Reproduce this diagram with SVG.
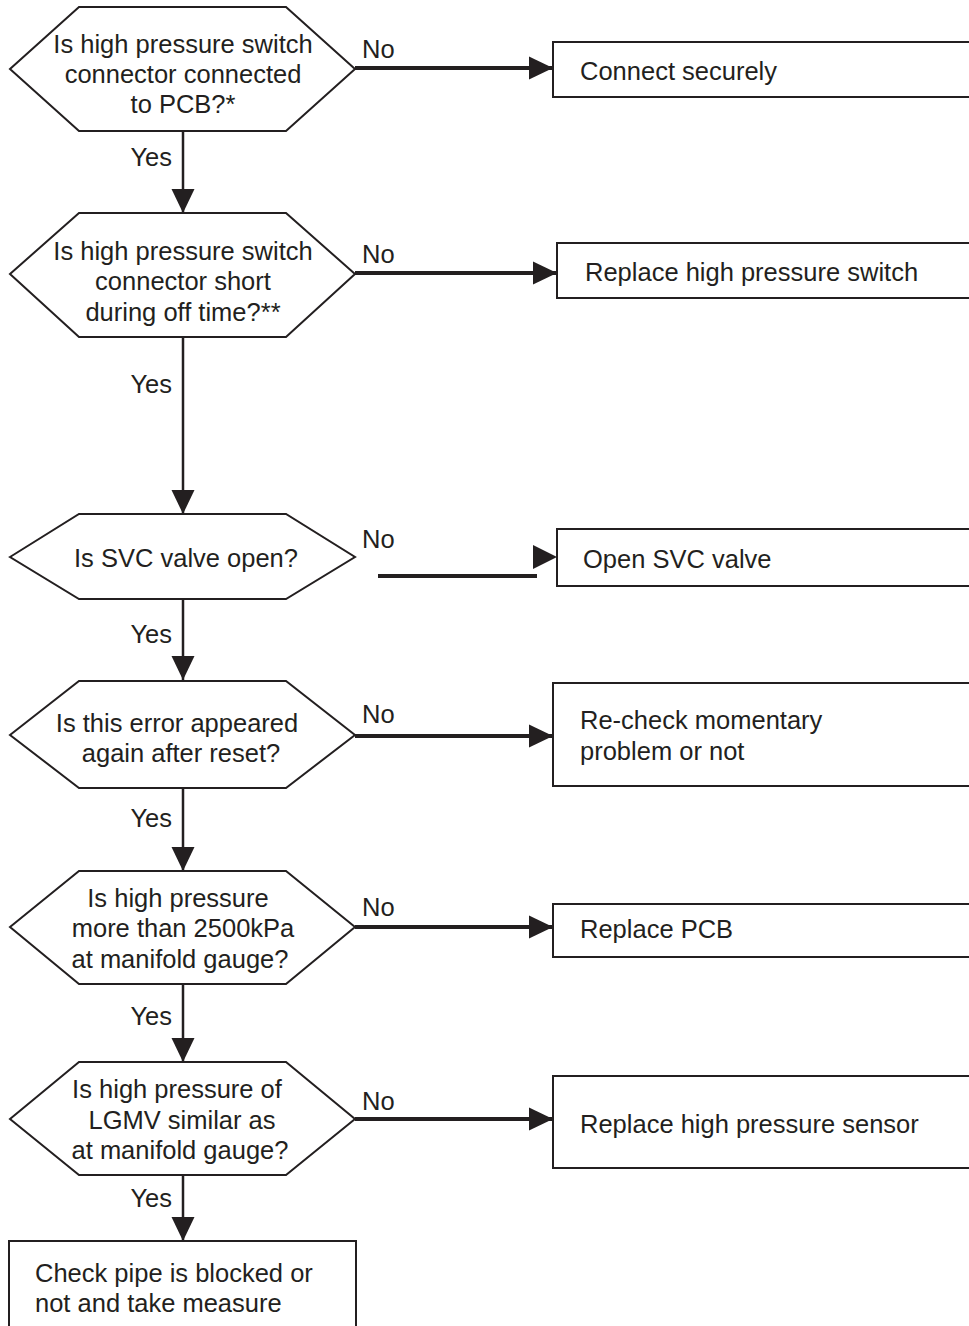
<svg xmlns="http://www.w3.org/2000/svg" width="969" height="1326" viewBox="0 0 969 1326">
<style>
  .shape { fill: #ffffff; stroke: #231f20; stroke-width: 2; }
  .t { font-family: "Liberation Sans", Arial, sans-serif; font-size: 25.5px; fill: #231f20; }
  .c { text-anchor: middle; }
  .e { text-anchor: end; }
  .v { fill: none; stroke: #231f20; stroke-width: 2.5; }
  .h { fill: none; stroke: #231f20; stroke-width: 4; }
  .head { fill: #231f20; stroke: none; }
</style>
<defs>
  <marker id="arrow" markerUnits="userSpaceOnUse" markerWidth="24" markerHeight="24" refX="24" refY="12" orient="auto">
    <path d="M0,0.5 L24,12 L0,23.5 Z" fill="#231f20"/>
  </marker>
</defs>
<rect width="969" height="1326" fill="#ffffff"/>

<g id="connectors">
  <path class="v" d="M183,131 V213" marker-end="url(#arrow)"/>
  <path class="v" d="M183,337 V514" marker-end="url(#arrow)"/>
  <path class="v" d="M183,599 V680" marker-end="url(#arrow)"/>
  <path class="v" d="M183,788 V871" marker-end="url(#arrow)"/>
  <path class="v" d="M183,984 V1062" marker-end="url(#arrow)"/>
  <path class="v" d="M183,1175 V1241" marker-end="url(#arrow)"/>
  <path class="h" d="M355,68 H553" marker-end="url(#arrow)"/>
  <path class="h" d="M355,273 H557" marker-end="url(#arrow)"/>
  <path class="h" d="M378,576 H537"/>
  <polygon class="head" points="533,545 557,557 533,569"/>
  <path class="h" d="M355,736 H553" marker-end="url(#arrow)"/>
  <path class="h" d="M355,927 H553" marker-end="url(#arrow)"/>
  <path class="h" d="M355,1119 H553" marker-end="url(#arrow)"/>
  <text class="t e" x="172" y="166">Yes</text>
  <text class="t e" x="172" y="393">Yes</text>
  <text class="t e" x="172" y="643">Yes</text>
  <text class="t e" x="172" y="827">Yes</text>
  <text class="t e" x="172" y="1025">Yes</text>
  <text class="t e" x="172" y="1207">Yes</text>
  <text class="t" x="362" y="58">No</text>
  <text class="t" x="362" y="263">No</text>
  <text class="t" x="362" y="548">No</text>
  <text class="t" x="362" y="723">No</text>
  <text class="t" x="362" y="916">No</text>
  <text class="t" x="362" y="1110">No</text>
</g>

<g id="q1">
  <polygon class="shape" points="10,69 79,7 286,7 355,69 286,131 79,131"/>
  <text class="t c" x="183" y="53">Is high pressure switch</text>
  <text class="t c" x="183" y="83">connector connected</text>
  <text class="t c" x="183" y="113">to PCB?*</text>
</g>
<g id="q2">
  <polygon class="shape" points="10,274 79,213 286,213 355,274 286,337 79,337"/>
  <text class="t c" x="183" y="260">Is high pressure switch</text>
  <text class="t c" x="183" y="290">connector short</text>
  <text class="t c" x="183" y="321">during off time?**</text>
</g>
<g id="q3">
  <polygon class="shape" points="10,557 79,514 286,514 355,557 286,599 79,599"/>
  <text class="t c" x="186" y="567">Is SVC valve open?</text>
</g>
<g id="q4">
  <polygon class="shape" points="10,735 79,681 286,681 355,735 286,788 79,788"/>
  <text class="t c" x="177" y="732">Is this error appeared</text>
  <text class="t c" x="181" y="762">again after reset?</text>
</g>
<g id="q5">
  <polygon class="shape" points="10,927 79,871 286,871 355,927 286,984 79,984"/>
  <text class="t c" x="178" y="907">Is high pressure</text>
  <text class="t c" x="183" y="937">more than 2500kPa</text>
  <text class="t c" x="180" y="968">at manifold gauge?</text>
</g>
<g id="q6">
  <polygon class="shape" points="10,1119 79,1062 286,1062 355,1119 286,1175 79,1175"/>
  <text class="t c" x="177" y="1098">Is high pressure of</text>
  <text class="t c" x="182" y="1129">LGMV similar as</text>
  <text class="t c" x="180" y="1159">at manifold gauge?</text>
</g>

<g id="a1">
  <rect class="shape" x="553" y="42" width="425" height="55"/>
  <text class="t" x="580" y="80">Connect securely</text>
</g>
<g id="a2">
  <rect class="shape" x="557" y="243" width="421" height="55"/>
  <text class="t" x="585" y="281">Replace high pressure switch</text>
</g>
<g id="a3">
  <rect class="shape" x="557" y="529" width="421" height="57"/>
  <text class="t" x="583" y="568">Open SVC valve</text>
</g>
<g id="a4">
  <rect class="shape" x="553" y="683" width="425" height="103"/>
  <text class="t" x="580" y="729">Re-check momentary</text>
  <text class="t" x="580" y="760">problem or not</text>
</g>
<g id="a5">
  <rect class="shape" x="553" y="904" width="425" height="53"/>
  <text class="t" x="580" y="938">Replace PCB</text>
</g>
<g id="a6">
  <rect class="shape" x="553" y="1076" width="425" height="92"/>
  <text class="t" x="580" y="1133">Replace high pressure sensor</text>
</g>
<g id="a7">
  <rect class="shape" x="9" y="1241" width="347" height="100"/>
  <text class="t" x="35" y="1282">Check pipe is blocked or</text>
  <text class="t" x="35" y="1312">not and take measure</text>
</g>
</svg>
